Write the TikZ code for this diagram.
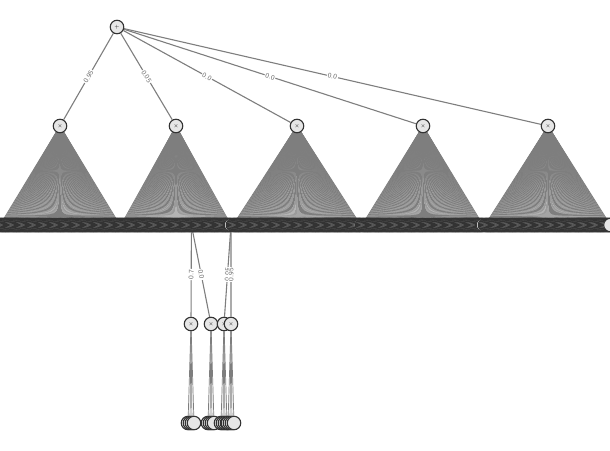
\documentclass[tikz,border=0pt]{standalone}
\usetikzlibrary{backgrounds}
\begin{document}
\begin{tikzpicture}[x=1pt,y=-1pt,
    spn/.style={circle, draw=black!80, line width=1.1pt, fill=gray!22,
        minimum size=13.5pt, inner sep=0pt, font=\fontsize{5}{5}\selectfont},
    link/.style={draw=gray!90!black, line width=1.1pt},
    wlabel/.style={midway, sloped, fill=white, inner sep=0.8pt,
        font=\fontsize{7}{7}\sffamily, text=gray!75!black}]
    \colorlet{gray}{gray!90}

    \useasboundingbox (0,0) rectangle (610,450);

    %% root and products
    \node[spn] (root) at (117,27) {+};
    \foreach \i/\x in {1/60,2/176,3/297,4/423,5/548}
        \node[spn] (p\i) at (\x,126) {$\times$};

    %% one row of leaves under each product (start, last index)
    \foreach \i/\a/\n in {1/0/109,2/121/100,3/233/116,4/362/110,5/485/114}
        \foreach \j in {0,...,\n}
            \node[spn] (l\i-\j) at ({\a+1.1*\j},225) {};

    %% second level
    \foreach \k/\x in {1/191,2/211,3/224,4/231}
        \node[spn] (c\k) at (\x,324) {$\times$};
    \foreach \k/\x in {1/191,2/211,3/224,4/231}
        \foreach \m in {1,...,4}
            \node[spn] (b\k-\m) at ({\x-5+2*\m},423) {};

    \begin{pgfonlayer}{background}
        \draw[link] (root) -- node[wlabel] {0.95} (p1);
        \draw[link] (root) -- node[wlabel] {0.05} (p2);
        \draw[link] (root) -- node[wlabel] {0.0} (p3);
        \draw[link] (root) -- node[wlabel] {0.0} (p4);
        \draw[link] (root) -- node[wlabel] {0.0} (p5);

        \foreach \i/\n in {1/109,2/100,3/116,4/110,5/114}
            \foreach \j in {0,...,\n}
                \draw[link, line width=0.8pt] (p\i) -- (l\i-\j);

        \draw[link] (c1) -- node[wlabel] {0.7} (l2-64);
        \draw[link] (l2-64) -- node[wlabel] {0.0} (c2);
        \draw[link] (l2-100) -- node[wlabel] {0.05} (c3);
        \draw[link] (c4) -- node[wlabel] {0.95} (l2-100);

        \foreach \k in {1,...,4}
            \foreach \m in {1,...,4}
                \draw[link, line width=0.7pt] (c\k) -- (b\k-\m);
    \end{pgfonlayer}

\end{tikzpicture}
\end{document}
